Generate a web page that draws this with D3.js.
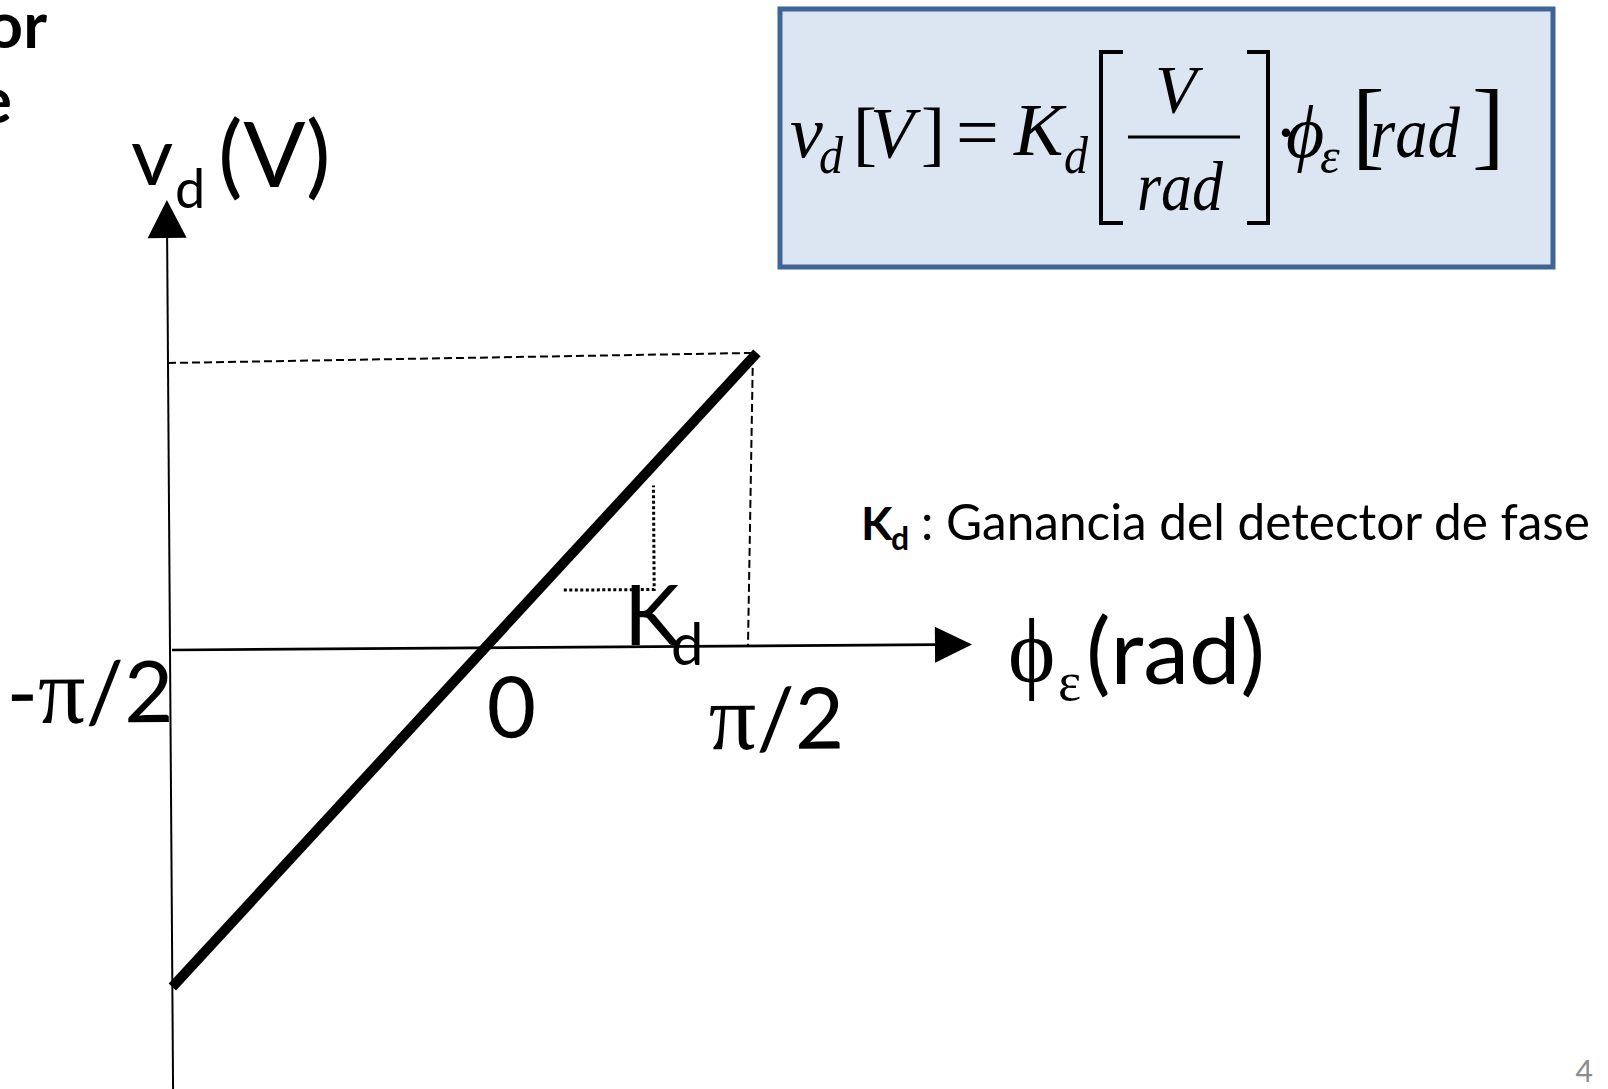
<!DOCTYPE html>
<html>
<head>
<meta charset="utf-8">
<script src="https://cdn.jsdelivr.net/npm/d3@7"></script>
<style>
  body { margin: 0; background: #fff; }
  svg { display: block; }
</style>
</head>
<body>
<script>
// characteristic of the phase detector: vd = Kd * phi
const phaseTicks = [-Math.PI / 2, 0, Math.PI / 2]
const phaseTickLabels = ['-π/2', '0', 'π/2']
const linePhase = [-Math.PI / 2, Math.PI / 2]
const lineVd = [-1, 1] // in units of the max output
// little slope triangle drawn under the line (Kd)
const slopePhase = [0.45, 0.97, 0.97]
const slopeVd = [0.195, 0.195, 0.55]

const width = 1608
const height = 1089
const sans = 'Lato, "Open Sans", sans-serif'
const serif = '"Liberation Serif", "DejaVu Serif", serif'

const svg = d3.select('body').append('svg')
  .attr('width', width)
  .attr('height', height)

svg.append('rect').attr('width', width).attr('height', height).attr('fill', '#fff')

// slide title leftovers, cut at the left edge
svg.append('text')
  .attr('x', 47).attr('y', 48)
  .attr('text-anchor', 'end')
  .attr('font-family', sans).attr('font-weight', 700).attr('font-size', 64)
  .text('or')
svg.append('text')
  .attr('x', 12).attr('y', 123)
  .attr('text-anchor', 'end')
  .attr('font-family', sans).attr('font-weight', 700).attr('font-size', 64)
  .text('e')

// scales (the drawing is a bit asymmetric, so 0 sits off centre)
const xScale = d3.scaleLinear()
  .domain([-Math.PI / 2, 0, Math.PI / 2])
  .range([0, 316, 589])
const yScale = d3.scaleLinear()
  .domain([-1, 0, 1])
  .range([337, 0, -293])

const g = svg.append('g').attr('transform', 'translate(170,650) rotate(-0.4)')

// vertical axis
g.append('line')
  .attr('x1', xScale(-Math.PI / 2)).attr('x2', xScale(-Math.PI / 2))
  .attr('y1', -412).attr('y2', 470)
  .attr('stroke', '#000').attr('stroke-width', 2)
g.append('path')
  .attr('d', d3.line()([[0, -450], [-19.5, -412], [19.5, -412]]) + 'Z')
  .attr('fill', '#000')

// horizontal axis
g.append('line')
  .attr('x1', 2).attr('x2', 766)
  .attr('y1', yScale(0)).attr('y2', yScale(0))
  .attr('stroke', '#000').attr('stroke-width', 2.6)
g.append('path')
  .attr('d', d3.line()([[802, 0], [765, -18], [765, 18]]) + 'Z')
  .attr('fill', '#000')

// dashed guides from the top end of the line (hand drawn, a bit skewed)
const peak = { phase: linePhase[1], vd: lineVd[1] }
g.append('path')
  .attr('d', d3.line()([
    [xScale(-Math.PI / 2), yScale(peak.vd) + 6],
    [xScale(peak.phase) - 4, yScale(peak.vd)],
    [xScale(peak.phase) - 11, yScale(0)]
  ]))
  .attr('fill', 'none')
  .attr('stroke', '#000').attr('stroke-width', 2)
  .attr('stroke-dasharray', '8,4')

// slope triangle
const slopeData = slopePhase.map((p, i) => ({ phase: p, vd: slopeVd[i] }))
g.append('path')
  .attr('d', d3.line().x(d => xScale(d.phase)).y(d => yScale(d.vd))(slopeData))
  .attr('fill', 'none')
  .attr('stroke', '#000').attr('stroke-width', 3)
  .attr('stroke-dasharray', '3,2.5')

// the characteristic itself
const lineData = linePhase.map((p, i) => ({ phase: p, vd: lineVd[i] }))
g.append('path')
  .attr('d', d3.line().x(d => xScale(d.phase)).y(d => yScale(d.vd))(lineData))
  .attr('fill', 'none')
  .attr('stroke', '#000').attr('stroke-width', 10)
  .attr('stroke-linecap', 'butt')

// tick labels, placed by hand around each value
const tickLayout = [
  { anchor: 'end', dx: 3, dy: 72 },
  { anchor: 'middle', dx: 25, dy: 90 },
  { anchor: 'middle', dx: 17, dy: 103 }
]
g.selectAll('text.tick')
  .data(phaseTicks)
  .join('text')
  .attr('class', 'tick')
  .attr('x', (d, i) => xScale(d) + tickLayout[i].dx)
  .attr('y', (d, i) => yScale(0) + tickLayout[i].dy)
  .attr('text-anchor', (d, i) => tickLayout[i].anchor)
  .attr('font-family', sans).attr('font-size', 85)
  .each(function (d, i) {
    const t = d3.select(this)
    phaseTickLabels[i].split(/(π)/).filter(s => s).forEach(s => {
      const ts = t.append('tspan').text(s)
      if (s === 'π') ts.attr('font-family', serif).attr('font-size', 94)
    })
  })

// Kd label near the slope triangle
const kd = svg.append('text').attr('font-family', sans)
kd.append('tspan').attr('x', 624).attr('y', 645).attr('font-size', 84).text('K')
kd.append('tspan').attr('x', 671).attr('y', 665).attr('font-size', 58).text('d')

// axis titles
const yTitle = svg.append('text').attr('font-family', sans)
yTitle.append('tspan').attr('x', 131).attr('y', 185).attr('font-size', 82).text('v')
yTitle.append('tspan').attr('x', 175).attr('y', 208).attr('font-size', 54).text('d')
yTitle.append('tspan').attr('x', 218).attr('y', 187).attr('font-size', 92).text('(V)')

const xTitle = svg.append('text')
xTitle.append('tspan').attr('x', 1008).attr('y', 682).attr('font-family', serif).attr('font-size', 90).text('ϕ')
xTitle.append('tspan').attr('x', 1058).attr('y', 700).attr('font-family', serif).attr('font-size', 55).text('ε')
xTitle.append('tspan').attr('x', 1086).attr('y', 684).attr('font-family', sans).attr('font-size', 92).text('(rad)')

// legend for Kd
const note = svg.append('text').attr('font-family', sans)
note.append('tspan').attr('x', 861).attr('y', 540).attr('font-size', 46).attr('font-weight', 700).text('K')
note.append('tspan').attr('x', 891).attr('y', 550).attr('font-size', 32).attr('font-weight', 700).text('d')
note.append('tspan').attr('x', 921).attr('y', 540).attr('font-size', 49.5).text(': Ganancia del detector de fase')

// equation box
const eq = svg.append('g')
eq.append('rect')
  .attr('x', 780).attr('y', 9).attr('width', 773).attr('height', 258)
  .attr('fill', '#dce6f2')
  .attr('stroke', '#3f6496').attr('stroke-width', 5)

const glyphs = [
  ['v', 790, 157, 74, true],
  ['d', 819, 173, 52, true, 24],
  ['[', 853, 157, 72, false],
  ['V', 870, 157, 72, true],
  [']', 921, 157, 72, false],
  ['=', 956, 158, 76, false],
  ['K', 1014, 155, 74, true],
  ['d', 1064, 173, 52, true, 24],
  ['V', 1155, 112, 68, true],
  ['rad', 1137, 210, 69, true, 86],
  ['·', 1274, 157, 72, false],
  ['ϕ', 1286, 157, 74, true],
  ['ε', 1320, 173, 50, true],
  ['[', 1352, 157, 98, false],
  ['rad', 1370, 157, 72, true, 90],
  [']', 1472, 157, 98, false]
]
glyphs.forEach(([s, x, y, size, it, len]) => {
  const t = eq.append('text')
    .attr('x', x).attr('y', y)
    .attr('font-family', serif).attr('font-size', size)
    .attr('font-style', it ? 'italic' : 'normal')
    .text(s)
  if (len) t.attr('textLength', len).attr('lengthAdjust', 'spacingAndGlyphs')
})
eq.append('path')
  .attr('d', 'M1123,52H1101V223H1123M1247,52H1268V223H1247')
  .attr('fill', 'none').attr('stroke', '#000').attr('stroke-width', 4)
eq.append('line')
  .attr('x1', 1128).attr('x2', 1240).attr('y1', 137).attr('y2', 137)
  .attr('stroke', '#000').attr('stroke-width', 3)

// slide number
svg.append('text')
  .attr('x', 1593).attr('y', 1082)
  .attr('text-anchor', 'end')
  .attr('font-family', sans).attr('font-size', 30)
  .attr('fill', '#8c8c8c')
  .text('4')
</script>
</body>
</html>
